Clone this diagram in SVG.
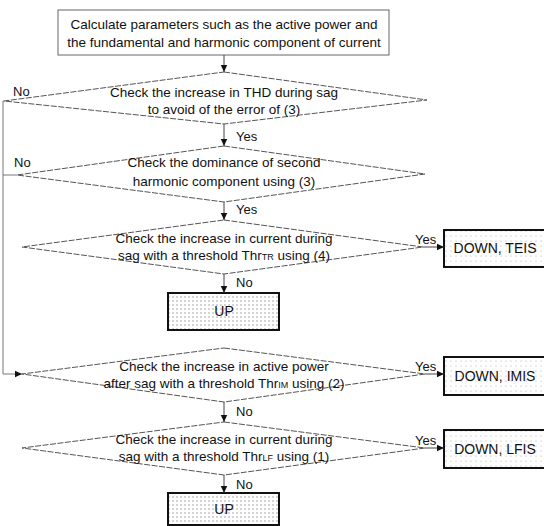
<svg xmlns="http://www.w3.org/2000/svg" width="544" height="526" viewBox="0 0 544 526">
<style>
text{font-family:"Liberation Sans",Arial,sans-serif;fill:#111}
.t{font-size:13.5px;text-anchor:middle}
.l{font-size:13px}
.b{font-size:14px;text-anchor:middle}
.sm{font-size:9px}
.dia{fill:none;stroke:#555;stroke-width:1;stroke-dasharray:6 1.5}
.con{fill:none;stroke:#444;stroke-width:1}
.loop{fill:none;stroke:#777;stroke-width:1}
.term{fill:url(#dots);stroke:#111;stroke-width:2}
.termL{fill:url(#dotsL);stroke:#111;stroke-width:2}
</style>
<defs>
<pattern id="dots" width="4" height="4" patternUnits="userSpaceOnUse">
<rect width="4" height="4" fill="#fff"/>
<circle cx="1" cy="1" r="0.7" fill="#888"/>
</pattern>
<pattern id="dotsL" width="5" height="5" patternUnits="userSpaceOnUse">
<rect width="5" height="5" fill="#fff"/>
<circle cx="1" cy="1" r="0.6" fill="#aaa"/>
</pattern>
<marker id="ah" markerWidth="8" markerHeight="8" refX="7" refY="4" orient="auto" markerUnits="userSpaceOnUse">
<path d="M0,0.8 L7,4 L0,7.2 z" fill="#111"/>
</marker>
</defs>

<g id="start">
<rect x="58" y="10" width="331" height="45" fill="#fff" stroke="#666" stroke-width="1"/>
<text class="t" x="224" y="29">Calculate parameters such as the active power and</text>
<text class="t" x="224" y="47">the fundamental and harmonic component of current</text>
</g>

<g id="d1">
<polygon class="dia" points="224,72 427,100 224,124 4,101"/>
<text class="t" x="224" y="97">Check the increase in THD during sag</text>
<text class="t" x="224" y="114">to avoid of the error of (3)</text>
</g>

<g id="d2">
<polygon class="dia" points="224,146 425,174 224,202 17,175"/>
<text class="t" x="224" y="167">Check the dominance of second</text>
<text class="t" x="224" y="186">harmonic component using (3)</text>
</g>

<g id="d3">
<polygon class="dia" points="224,220 423,247 224,274 22,247"/>
<text class="t" x="224" y="243">Check the increase in current during</text>
<text class="t" x="224" y="260">sag with a threshold Thr<tspan class="sm">TR</tspan> using (4)</text>
</g>

<g id="up1">
<rect class="term" x="168" y="293" width="111" height="37"/>
<text class="b" x="224" y="316">UP</text>
</g>

<g id="teis">
<rect class="termL" x="444" y="230" width="104" height="37"/>
<text class="b" x="495" y="253">DOWN, TEIS</text>
</g>

<g id="d4">
<polygon class="dia" points="224,348 425,374 224,402 22,374"/>
<text class="t" x="224" y="371">Check the increase in active power</text>
<text class="t" x="224" y="388">after sag with a threshold Thr<tspan class="sm">IM</tspan> using (2)</text>
</g>

<g id="imis">
<rect class="termL" x="444" y="357" width="104" height="38"/>
<text class="b" x="495" y="381">DOWN, IMIS</text>
</g>

<g id="d5">
<polygon class="dia" points="224,422 425,448 224,475 22,448"/>
<text class="t" x="224" y="444">Check the increase in current during</text>
<text class="t" x="224" y="461">sag with a threshold Thr<tspan class="sm">LF</tspan> using (1)</text>
</g>

<g id="lfis">
<rect class="termL" x="444" y="430" width="104" height="38"/>
<text class="b" x="495" y="454">DOWN, LFIS</text>
</g>

<g id="up2">
<rect class="term" x="168" y="493" width="111" height="32"/>
<text class="b" x="224" y="514">UP</text>
</g>

<g id="connectors">
<line class="con" x1="224" y1="55" x2="224" y2="72" marker-end="url(#ah)"/>
<line class="con" x1="224" y1="124" x2="224" y2="146" marker-end="url(#ah)"/>
<line class="con" x1="224" y1="202" x2="224" y2="220" marker-end="url(#ah)"/>
<line class="con" x1="224" y1="274" x2="224" y2="293" marker-end="url(#ah)"/>
<line class="con" x1="423" y1="247" x2="444" y2="247" marker-end="url(#ah)"/>
<line class="con" x1="224" y1="402" x2="224" y2="422" marker-end="url(#ah)"/>
<line class="con" x1="425" y1="374" x2="444" y2="374" marker-end="url(#ah)"/>
<line class="con" x1="224" y1="475" x2="224" y2="493" marker-end="url(#ah)"/>
<line class="con" x1="425" y1="448" x2="444" y2="448" marker-end="url(#ah)"/>
<polyline class="loop" points="4,101 3,101 3,374 22,374" marker-end="url(#ah)"/>
<line class="loop" x1="17" y1="175" x2="3" y2="175"/>
<text class="l" x="236" y="141">Yes</text>
<text class="l" x="236" y="214">Yes</text>
<text class="l" x="236" y="287">No</text>
<text class="l" x="236" y="416">No</text>
<text class="l" x="236" y="489">No</text>
<text class="l" x="415" y="244">Yes</text>
<text class="l" x="415" y="371">Yes</text>
<text class="l" x="415" y="445">Yes</text>
<text class="l" x="13" y="96">No</text>
<text class="l" x="14" y="167">No</text>
</g>
</svg>
